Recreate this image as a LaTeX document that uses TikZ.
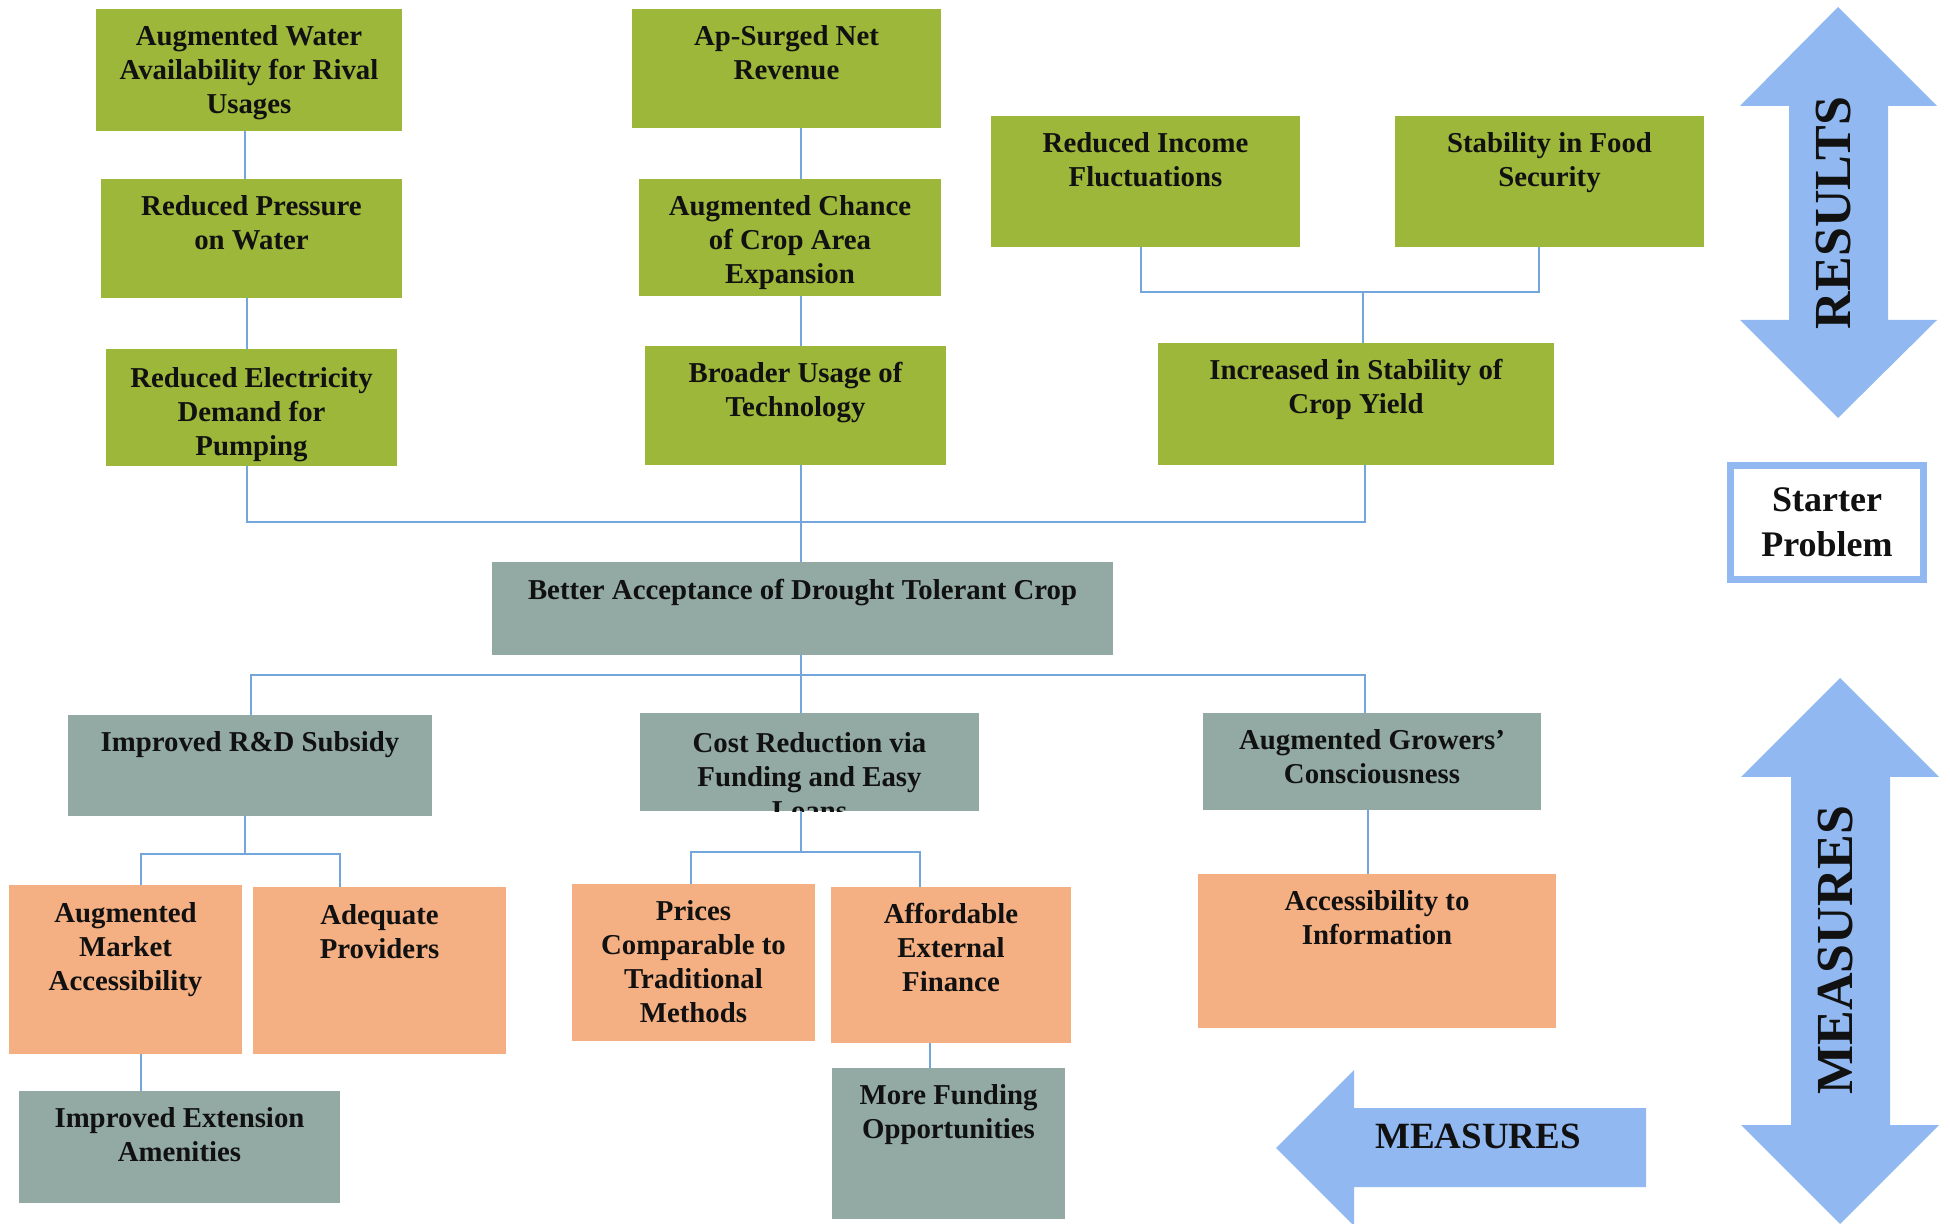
\documentclass[tikz,border=0pt]{standalone}
\usepackage{fontspec}
\setmainfont{Liberation Serif}
\usetikzlibrary{fit}

\definecolor{leafgreen}{HTML}{9CB739}
\definecolor{sagegrey}{HTML}{92AAA3}
\definecolor{peach}{HTML}{F4AF82}
\definecolor{skyblue}{HTML}{91B8F0}
\definecolor{linkblue}{HTML}{73A7DC}
\definecolor{inkblack}{HTML}{111111}

\tikzset{
  box/.style={inner sep=0pt, outer sep=0pt},
  resbox/.style={box, fill=leafgreen},
  mbox/.style={box, fill=sagegrey},
  actbox/.style={box, fill=peach},
  txt/.style={anchor=north, inner sep=0pt, align=center, text=inkblack,
    font=\bfseries\fontsize{14.4}{17}\selectfont},
  link/.style={draw=linkblue, line width=1pt},
  bigarrow/.style={fill=skyblue},
  arrowtxt/.style={inner sep=0pt, text=inkblack, font=\bfseries\fontsize{26}{30}\selectfont}
}

\begin{document}
\begin{tikzpicture}[x=0.5pt, y=-0.5pt]
      \useasboundingbox (0,0) rectangle (1950,1224);

      % results
      \node[resbox, fit={(96,9) (402,131)}] (aw) {};
      \node[resbox, fit={(101,179) (402,298)}] (rp) {};
      \node[resbox, fit={(106,349) (397,466)}] (re) {};
      \node[resbox, fit={(632,9) (941,128)}] (ar) {};
      \node[resbox, fit={(639,179) (941,296)}] (ac) {};
      \node[resbox, fit={(645,346) (946,465)}] (bu) {};
      \node[resbox, fit={(991,116) (1300,247)}] (ri) {};
      \node[resbox, fit={(1395,116) (1704,247)}] (sf) {};
      \node[resbox, fit={(1158,343) (1554,465)}] (ciy) {};

      % problem and measures
      \node[mbox, fit={(492,562) (1113,655)}] (bac) {};
      \node[mbox, fit={(68,715) (432,816)}] (rd) {};
      \node[mbox, fit={(640,713) (979,811)}] (cr) {};
      \node[mbox, fit={(1203,713) (1541,810)}] (ag) {};
      \node[actbox, fit={(9,885) (242,1054)}] (am) {};
      \node[actbox, fit={(253,887) (506,1054)}] (ap) {};
      \node[mbox, fit={(19,1091) (340,1203)}] (ie) {};
      \node[actbox, fit={(572,884) (815,1041)}] (pc) {};
      \node[actbox, fit={(831,887) (1071,1043)}] (af) {};
      \node[mbox, fit={(832,1068) (1065,1219)}] (mf) {};
      \node[actbox, fit={(1198,874) (1556,1028)}] (ai) {};

      % texts
      \node[txt] (aw-t) at ([yshift=-8pt]aw.north) {Augmented Water\\Availability for Rival\\Usages};
      \node[txt] (rp-t) at ([yshift=-8pt]rp.north) {Reduced Pressure\\on Water};
      \begin{scope}
        \clip (re.south west) rectangle (re.north east);
        \node[txt] (re-t) at ([yshift=-9pt]re.north) {Reduced Electricity\\Demand for\\Pumping};
      \end{scope}
      \node[txt] (ar-t) at ([yshift=-8pt]ar.north) {Ap-Surged Net\\Revenue};
      \node[txt] (ac-t) at ([yshift=-8pt]ac.north) {Augmented Chance\\of Crop Area\\Expansion};
      \node[txt] (bu-t) at ([yshift=-8pt]bu.north) {Broader Usage of\\Technology};
      \node[txt] (ri-t) at ([yshift=-8pt]ri.north) {Reduced Income\\Fluctuations};
      \node[txt] (sf-t) at ([yshift=-8pt]sf.north) {Stability in Food\\Security};
      \node[txt] (ciy-t) at ([yshift=-8pt]ciy.north) {Increased in Stability of\\Crop Yield};
      \node[txt] (bac-t) at ([yshift=-8.5pt]bac.north) {Better Acceptance of Drought Tolerant Crop};
      \node[txt] (rd-t) at ([yshift=-8pt]rd.north) {Improved R\&D Subsidy};
      \begin{scope}
        \clip (cr.south west) rectangle (cr.north east);
        \node[txt] (cr-t) at ([yshift=-9.5pt]cr.north) {Cost Reduction via\\Funding and Easy\\Loans};
      \end{scope}
      \node[txt] (ag-t) at ([yshift=-8pt]ag.north) {Augmented Growers’\\Consciousness};
      \node[txt] (am-t) at ([yshift=-8.5pt]am.north) {Augmented\\Market\\Accessibility};
      \node[txt] (ap-t) at ([yshift=-8.5pt]ap.north) {Adequate\\Providers};
      \node[txt] (ie-t) at ([yshift=-8pt]ie.north) {Improved Extension\\Amenities};
      \node[txt] (pc-t) at ([yshift=-8pt]pc.north) {Prices\\Comparable to\\Traditional\\Methods};
      \node[txt] (af-t) at ([yshift=-8pt]af.north) {Affordable\\External\\Finance};
      \node[txt] (mf-t) at ([yshift=-8pt]mf.north) {More Funding\\Opportunities};
      \node[txt] (ai-t) at ([yshift=-8pt]ai.north) {Accessibility to\\Information};

      % junctions
      \coordinate (top-l) at (247,522);
      \coordinate (top-m) at (801,522);
      \coordinate (top-r) at (1365,522);
      \coordinate (fs-l) at (1141,292);
      \coordinate (fs-m) at (1363,292);
      \coordinate (fs-r) at (1539,292);
      \coordinate (mid-l) at (251,675);
      \coordinate (mid-m) at (801,675);
      \coordinate (mid-r) at (1365,675);
      \coordinate (rd-l) at (141,854);
      \coordinate (rd-m) at (245,854);
      \coordinate (rd-r) at (340,854);
      \coordinate (cr-l) at (691,852);
      \coordinate (cr-m) at (801,852);
      \coordinate (cr-r) at (920,852);

      % links
      \draw[link] (aw.south -| rd-m) -- (rp.north -| rd-m);
      \draw[link] (rp.south -| top-l) -- (re.north -| top-l);
      \draw[link] (ar.south -| top-m) -- (ac.north -| top-m);
      \draw[link] (ac.south -| top-m) -- (bu.north -| top-m);
      \draw[link] (re.south -| top-l) -- (top-l) -- (top-r) -- (ciy.south -| top-r);
      \draw[link] (bu.south -| top-m) -- (bac.north -| top-m);
      \draw[link] (ri.south -| fs-l) -- (fs-l) -- (fs-r) -- (sf.south -| fs-r);
      \draw[link] (fs-m) -- (ciy.north -| fs-m);
      \draw[link] (bac.south -| mid-m) -- (cr.north -| mid-m);
      \draw[link] (rd.north -| mid-l) -- (mid-l) -- (mid-r) -- (ag.north -| mid-r);
      \draw[link] (rd.south -| rd-m) -- (rd-m);
      \draw[link] (am.north -| rd-l) -- (rd-l) -- (rd-r) -- (ap.north -| rd-r);
      \draw[link] (am.south -| rd-l) -- (ie.north -| rd-l);
      \draw[link] (cr.south -| cr-m) -- (cr-m);
      \draw[link] (pc.north -| cr-l) -- (cr-l) -- (cr-r) -- (af.north -| cr-r);
      \draw[link] (af.south -| 930,0) -- (mf.north -| 930,0);
      \draw[link] (ag.south -| 1368,0) -- (ai.north -| 1368,0);

      % side arrows
      \fill[bigarrow] (1838,7) -- (1937,106) -- (1888,106) -- (1888,320) -- (1937,320)
        -- (1838,418) -- (1740,320) -- (1789,320) -- (1789,106) -- (1740,106) -- cycle;
      \node[arrowtxt, rotate=90] (results) at (1834,213) {RESULTS};
      \fill[bigarrow] (1840,678) -- (1939,777) -- (1890,777) -- (1890,1125) -- (1939,1125)
        -- (1840,1224) -- (1741,1125) -- (1791,1125) -- (1791,777) -- (1741,777) -- cycle;
      \node[arrowtxt, rotate=90] (measures-v) at (1836,950) {MEASURES};
      \fill[bigarrow] (1276,1148) -- (1354,1070) -- (1354,1108) -- (1646,1108) -- (1646,1187)
        -- (1354,1187) -- (1354,1226) -- cycle;
      \node[arrowtxt, font=\bfseries\fontsize{18.5}{22}\selectfont] (measures-h) at (1478,1136) {MEASURES};

      % starter problem
      \node[draw=skyblue, line width=3.5pt, fill=white, minimum width=96.5pt, minimum height=57pt,
        align=center, text=inkblack, font=\bfseries\fontsize{18}{22.5}\selectfont]
        (starter) at (1827,522.5) {Starter\\Problem};

    \end{tikzpicture}
\end{document}
